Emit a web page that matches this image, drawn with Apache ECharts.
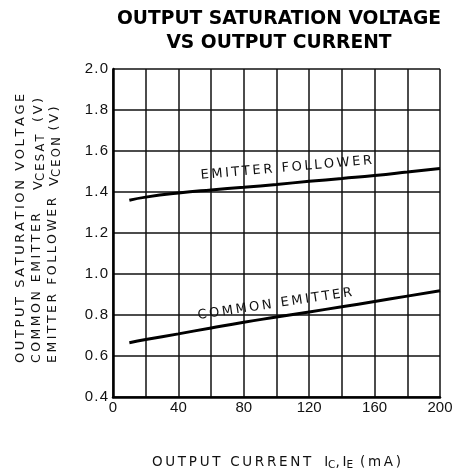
<!DOCTYPE html>
<html>
<head>
<meta charset="utf-8">
<title>Output saturation voltage vs output current</title>
<script src="https://cdn.jsdelivr.net/npm/echarts@6/dist/echarts.min.js"></script>
<style>
  html, body { margin: 0; padding: 0; background: #fff; }
  #main { width: 459px; height: 472px; }
</style>
</head>
<body>
<div id="main"></div>
<script type="text/javascript">
// output current, mA
var current = [10, 20, 40, 60, 80, 100, 120, 140, 160, 180, 200];
// V_CEON, emitter follower (V)
var emitterFollower = [1.36, 1.375, 1.395, 1.41, 1.423, 1.437, 1.452, 1.466, 1.48, 1.497, 1.515];
// V_CESAT, common emitter (V)
var commonEmitter = [0.665, 0.68, 0.708, 0.737, 0.765, 0.79, 0.815, 0.84, 0.866, 0.892, 0.918];
// where the curve names sit, in data units
var followerLabelAt = [106, 1.517];
var commonLabelAt = [99, 0.853];

var font = '"Liberation Sans", Arial, Helvetica, sans-serif';
var wide = '"DejaVu Sans", "Liberation Sans", sans-serif';
var ink = '#111';

// the original lettering is widely tracked, fake it with thin spaces
function sp(s) { return s.split('').join('\u2009'); }

function pairs(ys) {
    var out = [];
    for (var i = 0; i < current.length; i++) out.push([current[i], ys[i]]);
    return out;
}

function curve(name, ys, at, rot) {
    return {
        name: name,
        type: 'line',
        data: pairs(ys),
        smooth: true,
        showSymbol: false,
        lineStyle: { color: '#000', width: 3 },
        silent: true,
        markPoint: {
            symbol: 'circle',
            symbolSize: 0,
            silent: true,
            data: [{ coord: at }],
            label: {
                show: true,
                position: 'inside',
                formatter: sp(name),
                rotate: rot,
                color: ink,
                fontFamily: wide,
                fontSize: 13
            }
        }
    };
}

var subRich = { s: { fontSize: 11.5, fill: ink, fontFamily: wide, verticalAlign: 'bottom', padding: [5, 0, 0, 0] } };

function sideText(x, y, text, size) {
    return {
        type: 'text', x: x, y: y, rotation: Math.PI / 2,
        style: { text: text, fill: ink, font: (size || 13) + 'px ' + wide, textAlign: 'left', textVerticalAlign: 'top', rich: subRich }
    };
}

var myChart = echarts.init(document.getElementById('main'));
var option = {
    animation: false,
    backgroundColor: '#fff',
    grid: { left: 113, right: 19, top: 69, bottom: 75, outerBoundsMode: 'none' },
    xAxis: {
        type: 'value',
        min: 0,
        max: 200,
        interval: 20,
        name: sp('OUTPUT CURRENT') + '   I{s|C},\u2009I{s|E}\u2009 (\u2009m\u2009A\u2009)',
        nameLocation: 'middle',
        nameGap: 57,
        nameTextStyle: {
            color: ink, fontFamily: wide, fontSize: 13.5,
            rich: { s: { fontSize: 10.5, verticalAlign: 'bottom', padding: [6, 0, 0, 0], color: ink, fontFamily: wide } }
        },
        axisLine: { show: true, lineStyle: { color: '#000', width: 2.5 } },
        axisTick: { show: false },
        splitLine: { show: true, lineStyle: { color: ink, width: 1.5 } },
        axisLabel: {
            color: ink, fontFamily: font, fontSize: 15, margin: 3,
            formatter: function (v) { return v % 40 === 0 ? String(v) : ''; }
        }
    },
    yAxis: {
        type: 'value',
        min: 0.4,
        max: 2.0,
        interval: 0.2,
        axisLine: { show: true, lineStyle: { color: '#000', width: 2.5 } },
        axisTick: { show: false },
        splitLine: { show: true, lineStyle: { color: ink, width: 1.5 } },
        axisLabel: {
            color: ink, fontFamily: font, fontSize: 15, margin: 5,
            formatter: function (v) { return v.toFixed(1).split('').join('\u200A'); }
        }
    },
    graphic: [
        {
            type: 'text', x: 279, y: 7,
            style: {
                text: 'OUTPUT SATURATION VOLTAGE\nVS OUTPUT CURRENT',
                fill: '#000', font: 'bold 18.7px ' + wide,
                textAlign: 'center', lineHeight: 24
            }
        },
        sideText(14, 363, sp('OUTPUT SATURATION VOLTAGE')),
        sideText(30, 363, sp('COMMON EMITTER'), 12.5),
        sideText(46, 363, sp('EMITTER FOLLOWER'), 12.5),
        sideText(30, 190, 'V{s|' + sp('CESAT') + '}   (\u2009V\u2009)'),
        sideText(46, 186, 'V{s|' + sp('CEON') + '}\u2009 (\u2009V\u2009)')
    ],
    series: [
        curve('EMITTER FOLLOWER', emitterFollower, followerLabelAt, 5),
        curve('COMMON EMITTER', commonEmitter, commonLabelAt, 8.5)
    ]
};
myChart.setOption(option);
</script>
</body>
</html>
